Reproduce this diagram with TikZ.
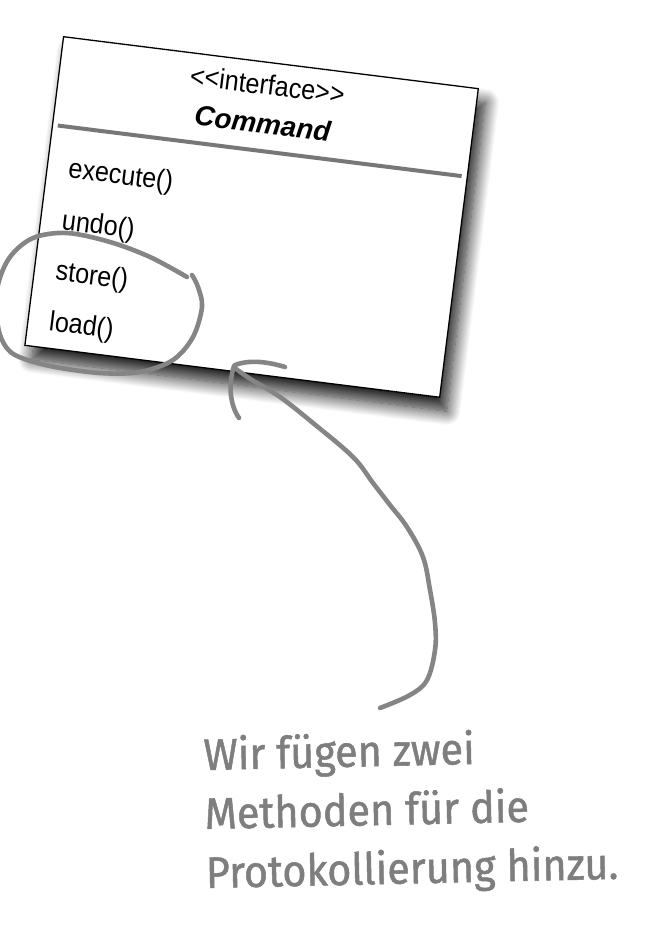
\documentclass[tikz,border=0pt]{standalone}
\usepackage{fontspec}
\setmainfont{Liberation Sans}
\newfontfamily\handfont[FakeBold=1.2]{Fira Sans}
\usetikzlibrary{shadows.blur}

\definecolor{pen}{HTML}{858585}
\definecolor{inkgray}{HTML}{7E7E7E}
\definecolor{rule}{HTML}{777777}

\tikzset{
  umlbox/.style={draw=black, line width=1.3pt, fill=white, inner sep=0pt,
    minimum width=418pt, minimum height=311pt, anchor=north west,
    blur shadow={shadow xshift=7pt, shadow yshift=-14pt,
      shadow blur radius=14pt, shadow blur steps=16, shadow opacity=90}},
  boxtext/.style={font=\fontsize{28}{32}\selectfont, inner sep=0pt, xscale=0.9},
  boxtitle/.style={font=\fontsize{28}{32}\selectfont\bfseries\itshape, inner sep=0pt},
  member/.style={boxtext, anchor=base west},
  hand/.style={draw=pen, line width=4.6pt, line cap=round, line join=round},
  note/.style={font=\handfont\fontsize{44}{59}\selectfont, text=inkgray,
    align=left, inner sep=0pt, xscale=0.94}
}

\begin{document}
\begin{tikzpicture}[x=1pt, y=-1pt]
\useasboundingbox (0,0) rectangle (666,928);

% the interface, tilted a little
\begin{scope}[shift={(63,36)}, rotate=-7.14, transform shape]
  \node[umlbox] (cmdbox) at (0,0) {};
  \draw[rule, line width=4pt] (6,89.5) coordinate (sepL) -- (413,89.5) coordinate (sepR);
  \node[boxtext, anchor=base] (stereo) at (209,33) {{<}{<}interface{>}{>}};
  \node[boxtitle, anchor=base] (cname) at (209,72) {Command};
  \node[member] (mexec)  at (22,140) {execute()};
  \node[member] (mundo)  at (22,192) {undo()};
  \node[member] (mstore) at (22,243) {store()};
  \node[member] (mload)  at (22,294) {load()};
\end{scope}

% loop around store() and load()
\draw[hand] plot[smooth, tension=0.55] coordinates {
  (187,277) (150,257) (110,242) (67,233) (33,238) (10,257) (-2,285)
  (-3,318) (2,340) (15,355) (50,366) (100,373) (140,372) (173,360)
  (193,337) (202,307) (198,287) (192,275)};

% note (anchored on the baseline of its last line)
\node[note, anchor=base west, rotate=1.2] (note) at (206,888)
  {Wir fügen zwei\\Methoden für die\\Protokollierung hinzu.};

% arrow from the note up to the box
\coordinate (tail) at (380,708);
\coordinate (tip) at (234,366);
\draw[hand] plot[smooth, tension=0.6] coordinates {
  (380,708) (410,695) (427,680) (435,650) (435,623) (430,590) (423,557)
  (407,527) (390,505) (373,483) (353,457) (313,423) (280,397) (252,380) (236,369)};
\draw[hand] (tip) .. controls (228,385) and (230,405) .. (239,418);
\draw[hand] (235,365) .. controls (248,360) and (265,361) .. (285,367);
\end{tikzpicture}
\end{document}
